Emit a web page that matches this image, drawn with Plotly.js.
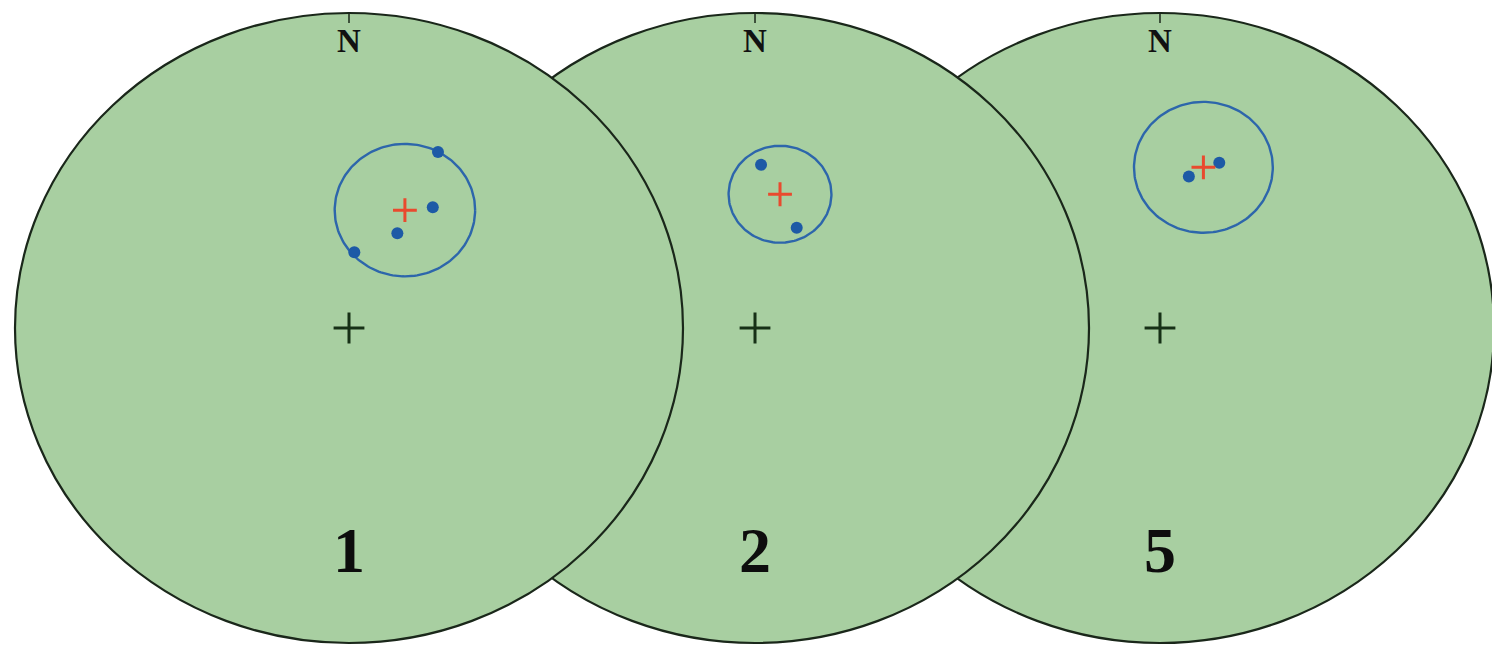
<!DOCTYPE html>
<html>
<head>
<meta charset="utf-8">
<script src="https://cdn.plot.ly/plotly-3.0.1.min.js"></script>
<style>
  html, body { margin: 0; padding: 0; background: #ffffff; }
  #chart { width: 1492px; height: 650px; }
</style>
</head>
<body>
<div id="chart"></div>
<script>
// Site labels for the three stereonets
const netLabels = ['1', '2', '5'];

// Individual sample directions (declination / inclination, degrees)
const sampleDec = [
  [25.5, 33.2, 25.7, 3.8],
  [2.0, 21.4],
  [10.2, 18.7]
];
const sampleInc = [
  [38.1, 52.2, 62.7, 70.4],
  [47.0, 62.0],
  [49.6, 43.9]
];

// Site mean directions and their 95% confidence cones
const meanDec = [24.1, 10.0, 14.3];
const meanInc = [56.3, 54.5, 46.3];
const alpha95 = [17.1, 12.5, 16.9];

// Horizontal placement of each net (in net radii) on the shared axis
const netOffset = [0, 1.2156, 2.4281];

const DEG = Math.PI / 180;

// Lambert equal-area (Schmidt) projection, unit primitive circle
function project(dec, inc) {
  const r = Math.SQRT2 * Math.sin((90 - inc) / 2 * DEG);
  return [r * Math.sin(dec * DEG), r * Math.cos(dec * DEG)];
}

const traces = [];
const shapes = [];
const annotations = [];

const netFill = 'rgb(168, 207, 161)';
const netEdge = '#1a271a';
const dotBlue = '#1d5aa6';
const ringBlue = '#2d66ab';
const meanRed = '#e94a2e';

// Primitive circles: drawn right-to-left so the left net sits on top
for (let i = netLabels.length - 1; i >= 0; i--) {
  const o = netOffset[i];
  shapes.push({
    type: 'circle', xref: 'x', yref: 'y', layer: 'below',
    x0: o - 1, x1: o + 1, y0: -1, y1: 1,
    fillcolor: netFill,
    line: { color: netEdge, width: 2.2 }
  });
}

netLabels.forEach((label, i) => {
  const o = netOffset[i];

  // North tick
  shapes.push({
    type: 'line', xref: 'x', yref: 'y', layer: 'above',
    x0: o, x1: o, y0: 1, y1: 0.968,
    line: { color: netEdge, width: 1.5 }
  });

  // Centre cross
  traces.push({
    type: 'scatter', mode: 'markers', hoverinfo: 'skip', showlegend: false,
    x: [o], y: [0],
    marker: { symbol: 'cross-thin', size: 22, line: { color: '#163016', width: 3 } }
  });

  // Confidence circle around the mean
  const m = project(meanDec[i], meanInc[i]);
  const rad = Math.SQRT2 * Math.sin(alpha95[i] / 2 * DEG);
  const cx = [], cy = [];
  for (let k = 0; k <= 180; k++) {
    const t = k / 180 * 2 * Math.PI;
    cx.push(o + m[0] + rad * Math.cos(t));
    cy.push(m[1] + rad * Math.sin(t));
  }
  traces.push({
    type: 'scatter', mode: 'lines', hoverinfo: 'skip', showlegend: false,
    x: cx, y: cy,
    line: { color: ringBlue, width: 2.4 }
  });

  // Sample directions
  const px = [], py = [];
  sampleDec[i].forEach((d, k) => {
    const p = project(d, sampleInc[i][k]);
    px.push(o + p[0]);
    py.push(p[1]);
  });
  traces.push({
    type: 'scatter', mode: 'markers', showlegend: false,
    x: px, y: py,
    marker: { symbol: 'circle', size: 12, color: dotBlue }
  });

  // Mean direction
  traces.push({
    type: 'scatter', mode: 'markers', showlegend: false,
    x: [o + m[0]], y: [m[1]],
    marker: { symbol: 'cross-thin', size: 17, line: { color: meanRed, width: 3 } }
  });

  // "N" label and site number
  annotations.push({
    xref: 'x', yref: 'y', x: o, y: 0.912, showarrow: false,
    text: '<b>N</b>',
    font: { family: 'Liberation Serif, serif', size: 33, color: '#111' }
  });
  annotations.push({
    xref: 'x', yref: 'y', x: o, y: -0.705, showarrow: false,
    text: '<b>' + label + '</b>',
    font: { family: 'Liberation Serif, serif', size: 64, color: '#0d0d0d' }
  });
});

const layout = {
  width: 1492, height: 650,
  margin: { l: 0, r: 0, t: 0, b: 0 },
  paper_bgcolor: '#ffffff',
  plot_bgcolor: '#ffffff',
  showlegend: false,
  xaxis: { range: [-349 / 334, (1492 - 349) / 334], visible: false, fixedrange: true },
  yaxis: { range: [-(650 - 328) / 315, 328 / 315], visible: false, fixedrange: true },
  shapes: shapes,
  annotations: annotations
};

Plotly.newPlot('chart', traces, layout, { displayModeBar: false, staticPlot: true });
</script>
</body>
</html>
